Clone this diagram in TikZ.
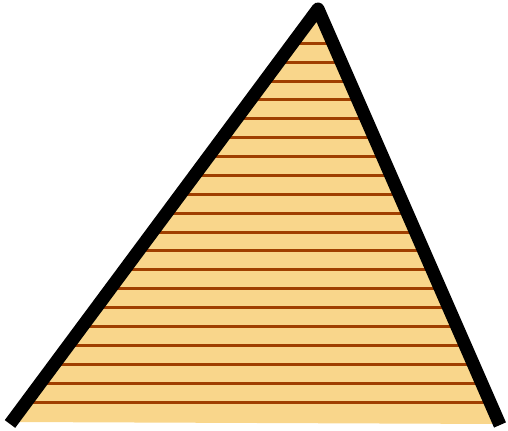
\documentclass[tikz,border=0pt]{standalone}
\usepackage{tikz}
\usetikzlibrary{calc}

\definecolor{sandfill}{HTML}{F9D68B}
\definecolor{hatchbrown}{HTML}{A03F00}

\begin{document}
\begin{tikzpicture}[x=0.02cm,y=-0.02cm]

% --- STYLES ---
\tikzset{
  sand/.style={fill=sandfill, draw=none},
  hatch/.style={hatchbrown, line width=0.06cm},
  rim/.style={black, line width=0.26cm, line join=round, line cap=butt},
}

\useasboundingbox (0,0) rectangle (508,431);

% ================= CORNERS =================
\coordinate (apex) at (318,9);
\coordinate (bl)   at (10,422);
\coordinate (br)   at (500,424);
\coordinate (blr)  at (10,424);
\coordinate (brr)  at (500,425);

% ================= FILL & HATCHING =================
\fill[sand] (apex) -- (bl) -- (br) -- cycle;

\begin{scope}
  \clip (apex) -- (bl) -- (br) -- cycle;
  \foreach \i in {0,...,19} {
    \draw[hatch] (0,{43.3+\i*18.88}) -- (508,{43.3+\i*18.88});
  }
\end{scope}

% ================= OUTLINE (two sides only) =================
\draw[rim] (blr) -- (apex) -- (brr);

\end{tikzpicture}
\end{document}
